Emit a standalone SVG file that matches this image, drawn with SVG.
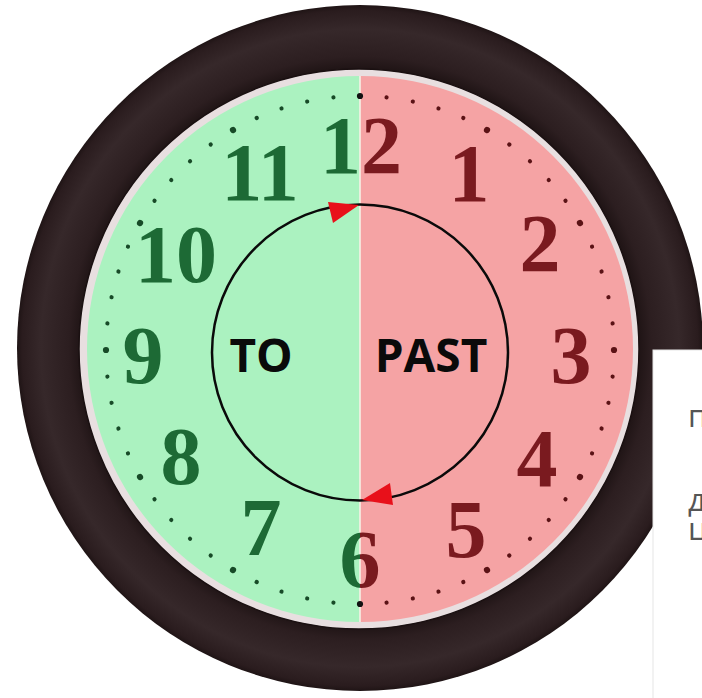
<svg xmlns="http://www.w3.org/2000/svg" xmlns:xlink="http://www.w3.org/1999/xlink" width="702" height="698" viewBox="0 0 702 698">
  <defs>
    <style>
      .num { font-family: "Liberation Serif", "DejaVu Serif", serif; font-weight: 700; font-size: 82px; text-anchor: middle; }
      .g { fill: #1d6a35; }
      .r { fill: #7a1a1f; }
      .lbl { font-family: "Open Sans", "DejaVu Sans", sans-serif; font-weight: 700; font-size: 46px; fill: #0a0a0a; text-anchor: middle; }
      .note { font-family: "Open Sans", "DejaVu Sans", sans-serif; font-size: 31px; fill: #555555; }
      .arrow { fill: #e8101a; }
    </style>
    <radialGradient id="rimGrad" cx="360" cy="348" r="343" gradientUnits="userSpaceOnUse">
      <stop offset="0.81" stop-color="#1e1314"/>
      <stop offset="0.85" stop-color="#2c1e20"/>
      <stop offset="0.93" stop-color="#36282a"/>
      <stop offset="0.985" stop-color="#2a1c1e"/>
      <stop offset="1" stop-color="#1f1415"/>
    </radialGradient>
    <clipPath id="leftHalf"><rect x="0" y="0" width="360" height="698"/></clipPath>
    <clipPath id="rightHalf"><rect x="360" y="0" width="342" height="698"/></clipPath>
    <circle id="d" cx="360" cy="96" r="2.1"/>
    <circle id="D" cx="360" cy="96" r="3.1"/>
  </defs>

  <rect x="0" y="0" width="702" height="698" fill="#ffffff"/>

  <g id="rim">
    <circle cx="360" cy="348" r="343" fill="url(#rimGrad)"/>
    <circle cx="359" cy="349" r="280" fill="#e8dfe0" stroke="#1a1011" stroke-width="1.5"/>
  </g>

  <g id="face">
    <path d="M360,76 A273,273 0 0 0 360,622 Z" fill="#abf2c0"/>
    <path d="M360,76 A273,273 0 0 1 360,622 Z" fill="#f5a3a4"/>
    <line x1="360" y1="76" x2="360" y2="622" stroke="#f7f1e6" stroke-width="1.6"/>
  </g>

  <g id="dots">
    <g fill="#5a1215">
      <use xlink:href="#d" transform="rotate(6 360 350)"/>
      <use xlink:href="#d" transform="rotate(12 360 350)"/>
      <use xlink:href="#d" transform="rotate(18 360 350)"/>
      <use xlink:href="#d" transform="rotate(24 360 350)"/>
      <use xlink:href="#D" transform="rotate(30 360 350)"/>
      <use xlink:href="#d" transform="rotate(36 360 350)"/>
      <use xlink:href="#d" transform="rotate(42 360 350)"/>
      <use xlink:href="#d" transform="rotate(48 360 350)"/>
      <use xlink:href="#d" transform="rotate(54 360 350)"/>
      <use xlink:href="#D" transform="rotate(60 360 350)"/>
      <use xlink:href="#d" transform="rotate(66 360 350)"/>
      <use xlink:href="#d" transform="rotate(72 360 350)"/>
      <use xlink:href="#d" transform="rotate(78 360 350)"/>
      <use xlink:href="#d" transform="rotate(84 360 350)"/>
      <use xlink:href="#D" transform="rotate(90 360 350)"/>
      <use xlink:href="#d" transform="rotate(96 360 350)"/>
      <use xlink:href="#d" transform="rotate(102 360 350)"/>
      <use xlink:href="#d" transform="rotate(108 360 350)"/>
      <use xlink:href="#d" transform="rotate(114 360 350)"/>
      <use xlink:href="#D" transform="rotate(120 360 350)"/>
      <use xlink:href="#d" transform="rotate(126 360 350)"/>
      <use xlink:href="#d" transform="rotate(132 360 350)"/>
      <use xlink:href="#d" transform="rotate(138 360 350)"/>
      <use xlink:href="#d" transform="rotate(144 360 350)"/>
      <use xlink:href="#D" transform="rotate(150 360 350)"/>
      <use xlink:href="#d" transform="rotate(156 360 350)"/>
      <use xlink:href="#d" transform="rotate(162 360 350)"/>
      <use xlink:href="#d" transform="rotate(168 360 350)"/>
      <use xlink:href="#d" transform="rotate(174 360 350)"/>
    </g>
    <g fill="#174a27">
      <use xlink:href="#d" transform="rotate(186 360 350)"/>
      <use xlink:href="#d" transform="rotate(192 360 350)"/>
      <use xlink:href="#d" transform="rotate(198 360 350)"/>
      <use xlink:href="#d" transform="rotate(204 360 350)"/>
      <use xlink:href="#D" transform="rotate(210 360 350)"/>
      <use xlink:href="#d" transform="rotate(216 360 350)"/>
      <use xlink:href="#d" transform="rotate(222 360 350)"/>
      <use xlink:href="#d" transform="rotate(228 360 350)"/>
      <use xlink:href="#d" transform="rotate(234 360 350)"/>
      <use xlink:href="#D" transform="rotate(240 360 350)"/>
      <use xlink:href="#d" transform="rotate(246 360 350)"/>
      <use xlink:href="#d" transform="rotate(252 360 350)"/>
      <use xlink:href="#d" transform="rotate(258 360 350)"/>
      <use xlink:href="#d" transform="rotate(264 360 350)"/>
      <use xlink:href="#D" transform="rotate(270 360 350)"/>
      <use xlink:href="#d" transform="rotate(276 360 350)"/>
      <use xlink:href="#d" transform="rotate(282 360 350)"/>
      <use xlink:href="#d" transform="rotate(288 360 350)"/>
      <use xlink:href="#d" transform="rotate(294 360 350)"/>
      <use xlink:href="#D" transform="rotate(300 360 350)"/>
      <use xlink:href="#d" transform="rotate(306 360 350)"/>
      <use xlink:href="#d" transform="rotate(312 360 350)"/>
      <use xlink:href="#d" transform="rotate(318 360 350)"/>
      <use xlink:href="#d" transform="rotate(324 360 350)"/>
      <use xlink:href="#D" transform="rotate(330 360 350)"/>
      <use xlink:href="#d" transform="rotate(336 360 350)"/>
      <use xlink:href="#d" transform="rotate(342 360 350)"/>
      <use xlink:href="#d" transform="rotate(348 360 350)"/>
      <use xlink:href="#d" transform="rotate(354 360 350)"/>
    </g>
    <g fill="#111111">
      <use xlink:href="#D"/>
      <use xlink:href="#D" transform="rotate(180 360 350)"/>
    </g>
  </g>

  <g id="numerals">
    <g id="n12">
      <text class="num g" x="361" y="173" clip-path="url(#leftHalf)">12</text>
      <text class="num r" x="361" y="173" clip-path="url(#rightHalf)">12</text>
    </g>
    <g id="n1"><text class="num r" x="469" y="201">1</text></g>
    <g id="n2"><text class="num r" x="540" y="271">2</text></g>
    <g id="n3"><text class="num r" x="571" y="383">3</text></g>
    <g id="n4"><text class="num r" x="537" y="486">4</text></g>
    <g id="n5"><text class="num r" x="466" y="557">5</text></g>
    <g id="n6">
      <text class="num g" x="360" y="587" clip-path="url(#leftHalf)">6</text>
      <text class="num r" x="360" y="587" clip-path="url(#rightHalf)">6</text>
    </g>
    <g id="n7"><text class="num g" x="261" y="555">7</text></g>
    <g id="n8"><text class="num g" x="181" y="484">8</text></g>
    <g id="n9"><text class="num g" x="143" y="383">9</text></g>
    <g id="n10"><text class="num g" x="176" y="282">10</text></g>
    <g id="n11"><text class="num g" x="260" y="200">11</text></g>
  </g>

  <g id="connectors">
    <circle cx="360" cy="352.5" r="148" fill="none" stroke="#0a0a0a" stroke-width="2.5"/>
    <polygon class="arrow" points="328,202 333,223 359,205"/>
    <polygon class="arrow" points="390,483 393,505 362,500"/>
  </g>

  <g id="label-to"><text class="lbl" x="261" y="372">TO</text></g>
  <g id="label-past"><text class="lbl" x="431" y="372">PAST</text></g>

  <g id="note-box">
    <rect x="653" y="350" width="60" height="360" fill="#ffffff" stroke="#e6e6e6" stroke-width="1"/>
    <text class="note" x="688" y="427">п</text>
    <text class="note" x="688" y="511">д</text>
    <text class="note" x="688" y="540">ц</text>
  </g>
</svg>
